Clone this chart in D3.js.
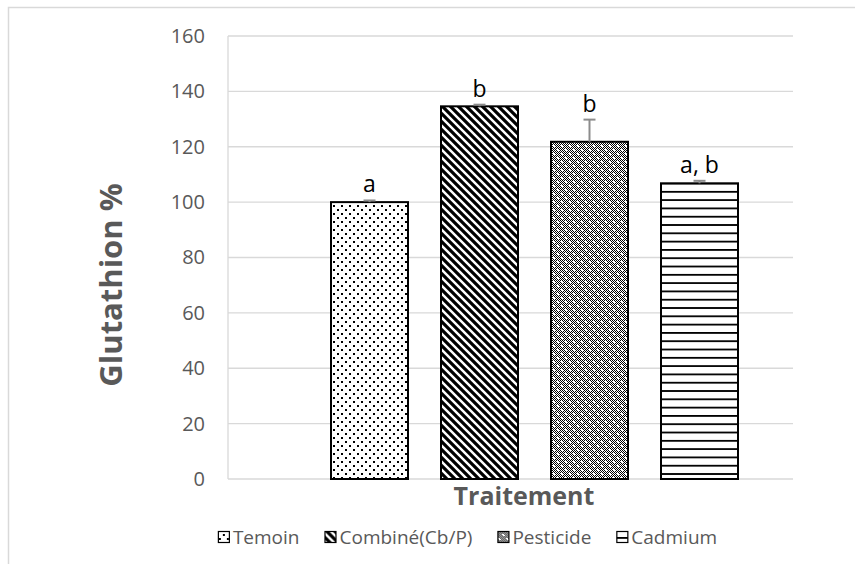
<!DOCTYPE html>
<html>
<head>
<meta charset="utf-8">
<script src="https://cdn.jsdelivr.net/npm/d3@7"></script>
<style>
  body { margin: 0; background: #fff; }
  svg { display: block; font-family: "Open Sans", sans-serif; }
</style>
</head>
<body>
<svg id="chart" width="855" height="564"></svg>
<script>
// chart values
const categories = ['Temoin', 'Combiné(Cb/P)', 'Pesticide', 'Cadmium'];
const values = [100, 134.6, 121.8, 106.8];
const errors = [0.6, 0.6, 8, 0.9];
const letters = ['a', 'b', 'b', 'a, b'];
const yTicks = [0, 20, 40, 60, 80, 100, 120, 140, 160];
const patternIds = ['dots', 'diag', 'checker', 'hlines'];

const plot = { left: 228, right: 793, top: 36, bottom: 479 };

const svg = d3.select('#chart');
const defs = svg.append('defs');

// fill patterns, 8px tiles like the office ones
const pDots = defs.append('pattern').attr('id', 'dots')
    .attr('patternUnits', 'userSpaceOnUse').attr('width', 8).attr('height', 8);
pDots.append('rect').attr('width', 8).attr('height', 8).attr('fill', '#fff');
[[1, 1], [5, 5]].forEach(([cx, cy]) => {
    pDots.append('rect').attr('x', cx).attr('y', cy).attr('width', 2).attr('height', 2).attr('fill', '#000');
});

const pDiag = defs.append('pattern').attr('id', 'diag')
    .attr('patternUnits', 'userSpaceOnUse').attr('width', 8).attr('height', 8);
pDiag.append('rect').attr('width', 8).attr('height', 8).attr('fill', '#fff');
pDiag.append('path').attr('d', 'M-2,-2 L10,10 M-6,2 L6,14 M2,-6 L14,6')
    .attr('stroke', '#000').attr('stroke-width', 3.2);

const pChk = defs.append('pattern').attr('id', 'checker')
    .attr('patternUnits', 'userSpaceOnUse').attr('width', 8).attr('height', 8);
pChk.append('rect').attr('width', 8).attr('height', 8).attr('fill', '#fff');
for (let i = 0; i < 8; i++) {
    for (let j = 0; j < 8; j++) {
        if ((i + j) % 2 === 0) {
            pChk.append('rect').attr('x', i).attr('y', j).attr('width', 1).attr('height', 1).attr('fill', '#000');
        }
    }
}
pChk.append('rect').attr('x', 1).attr('y', 1).attr('width', 2).attr('height', 2).attr('fill', '#fff');
pChk.append('rect').attr('x', 5).attr('y', 5).attr('width', 2).attr('height', 2).attr('fill', '#fff');

const pH = defs.append('pattern').attr('id', 'hlines')
    .attr('patternUnits', 'userSpaceOnUse').attr('width', 8).attr('height', 8.3);
pH.append('rect').attr('width', 8).attr('height', 8.3).attr('fill', '#fff');
pH.append('rect').attr('x', 0).attr('y', 0).attr('width', 8).attr('height', 1.8).attr('fill', '#000');

// chart border (only top/left fall inside the picture)
svg.append('rect')
    .attr('x', 8.5).attr('y', 7.5)
    .attr('width', 900).attr('height', 600)
    .attr('fill', 'none').attr('stroke', '#d9d9d9').attr('stroke-width', 1.5);

const y = d3.scaleLinear().domain([0, 160]).range([plot.bottom, plot.top]);
const x = d3.scaleBand().domain(categories)
    .range([314.5, 754.5])
    .paddingInner(0.3).paddingOuter(0.15);

// grid
const grid = svg.append('g').attr('class', 'grid');
grid.selectAll('line.h').data(yTicks).enter().append('line')
    .attr('class', 'h')
    .attr('x1', plot.left).attr('x2', plot.right)
    .attr('y1', (d) => y(d)).attr('y2', (d) => y(d))
    .attr('stroke', '#d9d9d9').attr('stroke-width', 1.3);
grid.append('line')
    .attr('x1', plot.left).attr('x2', plot.left)
    .attr('y1', plot.top).attr('y2', plot.bottom)
    .attr('stroke', '#d9d9d9').attr('stroke-width', 1.3);

// y axis labels
const yAxis = svg.append('g')
    .attr('transform', `translate(${plot.left - 23},0)`)
    .call(d3.axisLeft(y).tickValues(yTicks).tickSize(0).tickPadding(0));
yAxis.select('.domain').remove();
yAxis.selectAll('text')
    .attr('font-family', 'Open Sans').attr('font-size', 20)
    .attr('fill', '#595959');

// bars
svg.append('g').selectAll('rect').data(categories).enter().append('rect')
    .attr('x', (d) => x(d))
    .attr('y', (d, i) => y(values[i]))
    .attr('width', x.bandwidth())
    .attr('height', (d, i) => y(0) - y(values[i]))
    .attr('fill', (d, i) => `url(#${patternIds[i]})`)
    .attr('stroke', '#000').attr('stroke-width', 2);

// error bars (plus side)
const eb = svg.append('g').attr('stroke', '#8c8c8c').attr('stroke-width', 2);
categories.forEach((c, i) => {
    const cx = x(c) + x.bandwidth() / 2;
    eb.append('line').attr('x1', cx).attr('x2', cx)
        .attr('y1', y(values[i])).attr('y2', y(values[i] + errors[i]));
    eb.append('line').attr('x1', cx - 6).attr('x2', cx + 6)
        .attr('y1', y(values[i] + errors[i])).attr('y2', y(values[i] + errors[i]));
});

// significance letters
svg.append('g').selectAll('text').data(letters).enter().append('text')
    .attr('x', (d, i) => x(categories[i]) + x.bandwidth() / 2)
    .attr('y', (d, i) => y(values[i] + errors[i]) - 8)
    .attr('text-anchor', 'middle')
    .attr('font-size', 23).attr('fill', '#000')
    .text((d) => d);

// axis titles
svg.append('text')
    .attr('transform', 'translate(122,285) rotate(-90)')
    .attr('text-anchor', 'middle')
    .attr('font-size', 31).attr('font-weight', 'bold').attr('fill', '#595959')
    .text('Glutathion %');

svg.append('text')
    .attr('x', 524).attr('y', 505)
    .attr('text-anchor', 'middle')
    .attr('font-size', 25).attr('font-weight', 'bold').attr('fill', '#595959')
    .text('Traitement');

// legend
const legend = svg.append('g').attr('class', 'legend');
let offset = 0;
categories.forEach((c, i) => {
    const le = legend.append('g').attr('transform', `translate(${offset},0)`);
    le.append('rect')
        .attr('x', 0.5).attr('y', -5.5).attr('width', 11).attr('height', 11)
        .attr('fill', `url(#${patternIds[i]})`)
        .attr('stroke', '#000').attr('stroke-width', 1.2);
    const te = le.append('text')
        .attr('x', 15).attr('y', 7)
        .attr('font-size', 19).attr('fill', '#595959')
        .text(c);
    offset += 15 + te.node().getComputedTextLength() + 25;
});
const legendWidth = offset - 25;
legend.attr('transform', `translate(${467.5 - legendWidth / 2},537)`);
</script>
</body>
</html>
